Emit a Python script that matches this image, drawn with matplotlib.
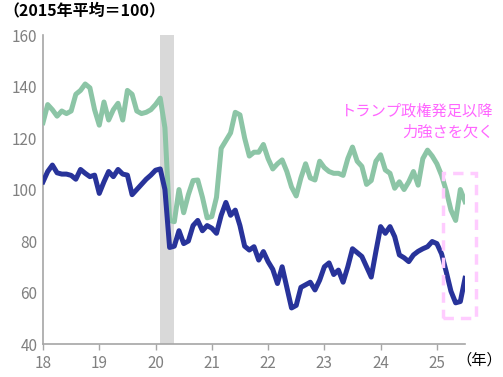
import numpy as np
import matplotlib
matplotlib.use("Agg")
import matplotlib.pyplot as plt
from matplotlib.patches import Rectangle

plt.rcParams['font.family'] = ['Noto Sans CJK JP', 'DejaVu Sans']

# monthly index values, Jan 2018 onward (2015 avg = 100)
green = [126, 133, 131, 128.5, 130.5, 129.5, 130.5, 137, 138.5, 141, 139.5, 131,
         125, 134, 127, 131, 133.5, 127, 138.5, 137, 130.5, 129.5, 130, 131,
         133, 135.5, 124, 88, 87.5, 100, 91, 98, 103.5, 103.7, 97, 89,
         89.5, 97, 116, 119, 122, 130, 129, 120, 113, 114.5, 114.5, 117.5,
         112, 108, 110, 111.5, 107, 101, 97.5, 104.5, 110, 104.5, 103.7, 111,
         108.5, 107, 106.3, 106.3, 105.5, 112, 116.5, 111, 109, 102, 103.5, 111,
         113.5, 107.6, 106.3, 100.5, 103, 100, 103, 107, 101.7, 112, 115.3, 113,
         110, 105.5, 99.5, 92, 88, 100, 95.3]
blue = [103, 107, 109.5, 106.5, 106, 106, 105.5, 104, 107.8, 106.3, 105, 105.6,
        98.5, 103, 107, 105, 107.8, 106, 105.6, 98, 100, 102, 104, 105.6,
        107.5, 108, 100, 77.5, 78, 84, 79, 80, 86, 88, 84, 86,
        85, 83, 90, 95, 90, 92, 86, 78, 76.5, 77.8, 72.6, 75.9,
        72, 69, 63.5, 70, 62, 54, 55, 62, 63, 64, 61, 64.8,
        70, 71.5, 67, 68.7, 64, 70, 77, 75.5, 74, 70, 66, 76,
        85.6, 83, 85.6, 81.7, 74.6, 73.5, 72, 74.6, 76, 77, 77.8, 79.8,
        79, 75, 68, 60.5, 56, 56.5, 65.5]
years = [2018, 2019, 2020, 2021, 2022, 2023, 2024, 2025]
year_labels = ['18', '19', '20', '21', '22', '23', '24', '25']
yticks = [40, 60, 80, 100, 120, 140, 160]
shade = (2020 + 1 / 12, 2020 + 4 / 12)

x = 2018 + np.arange(len(green)) / 12

fig = plt.figure(figsize=(5.03, 3.77), dpi=100)
ax = fig.add_axes([0.0855, 0.0875, 0.839, 0.8195])

ax.axvspan(shade[0], shade[1], color='#d9d9d9', lw=0, zorder=1)
ax.plot(x, green, color='#8cc5a6', lw=3.6, zorder=3, solid_joinstyle='round')
ax.plot(x, blue, color='#28339a', lw=3.6, zorder=4, solid_joinstyle='round')

box = Rectangle((2025.11, 50.2), 0.59, 56.2, fill=False, ec='#ffccff',
                lw=2.5, ls=(0, (3, 2)), zorder=5, clip_on=False)
ax.add_patch(box)

ax.set_xlim(2018, 2025.5)
ax.set_ylim(40, 160)
ax.set_xticks(years)
ax.set_xticklabels(year_labels)
ax.set_yticks(yticks)
for s in ['top', 'right']:
    ax.spines[s].set_visible(False)
for s in ['left', 'bottom']:
    ax.spines[s].set_color('#a6a6a6')
    ax.spines[s].set_linewidth(1.2)
ax.tick_params(axis='x', colors='#a6a6a6', length=4, width=1, labelcolor='#808080',
               labelsize=11, pad=4)
ax.tick_params(axis='y', length=0, labelcolor='#808080', labelsize=11, pad=4)

fig.text(0.006, 0.993, '（2015年平均＝100）', fontsize=11.5, fontweight='bold',
         ha='left', va='top', color='black')
fig.text(0.998, 0.068, '（年）', fontsize=11, ha='right', va='top', color='black')
ax.text(0.982, 0.728, 'トランプ政権発足以降\n力強さを欠く', transform=fig.transFigure,
        fontsize=11, color='#ff66ff', ha='right', va='top', linespacing=1.3)

fig.savefig('out.png', dpi=100)
